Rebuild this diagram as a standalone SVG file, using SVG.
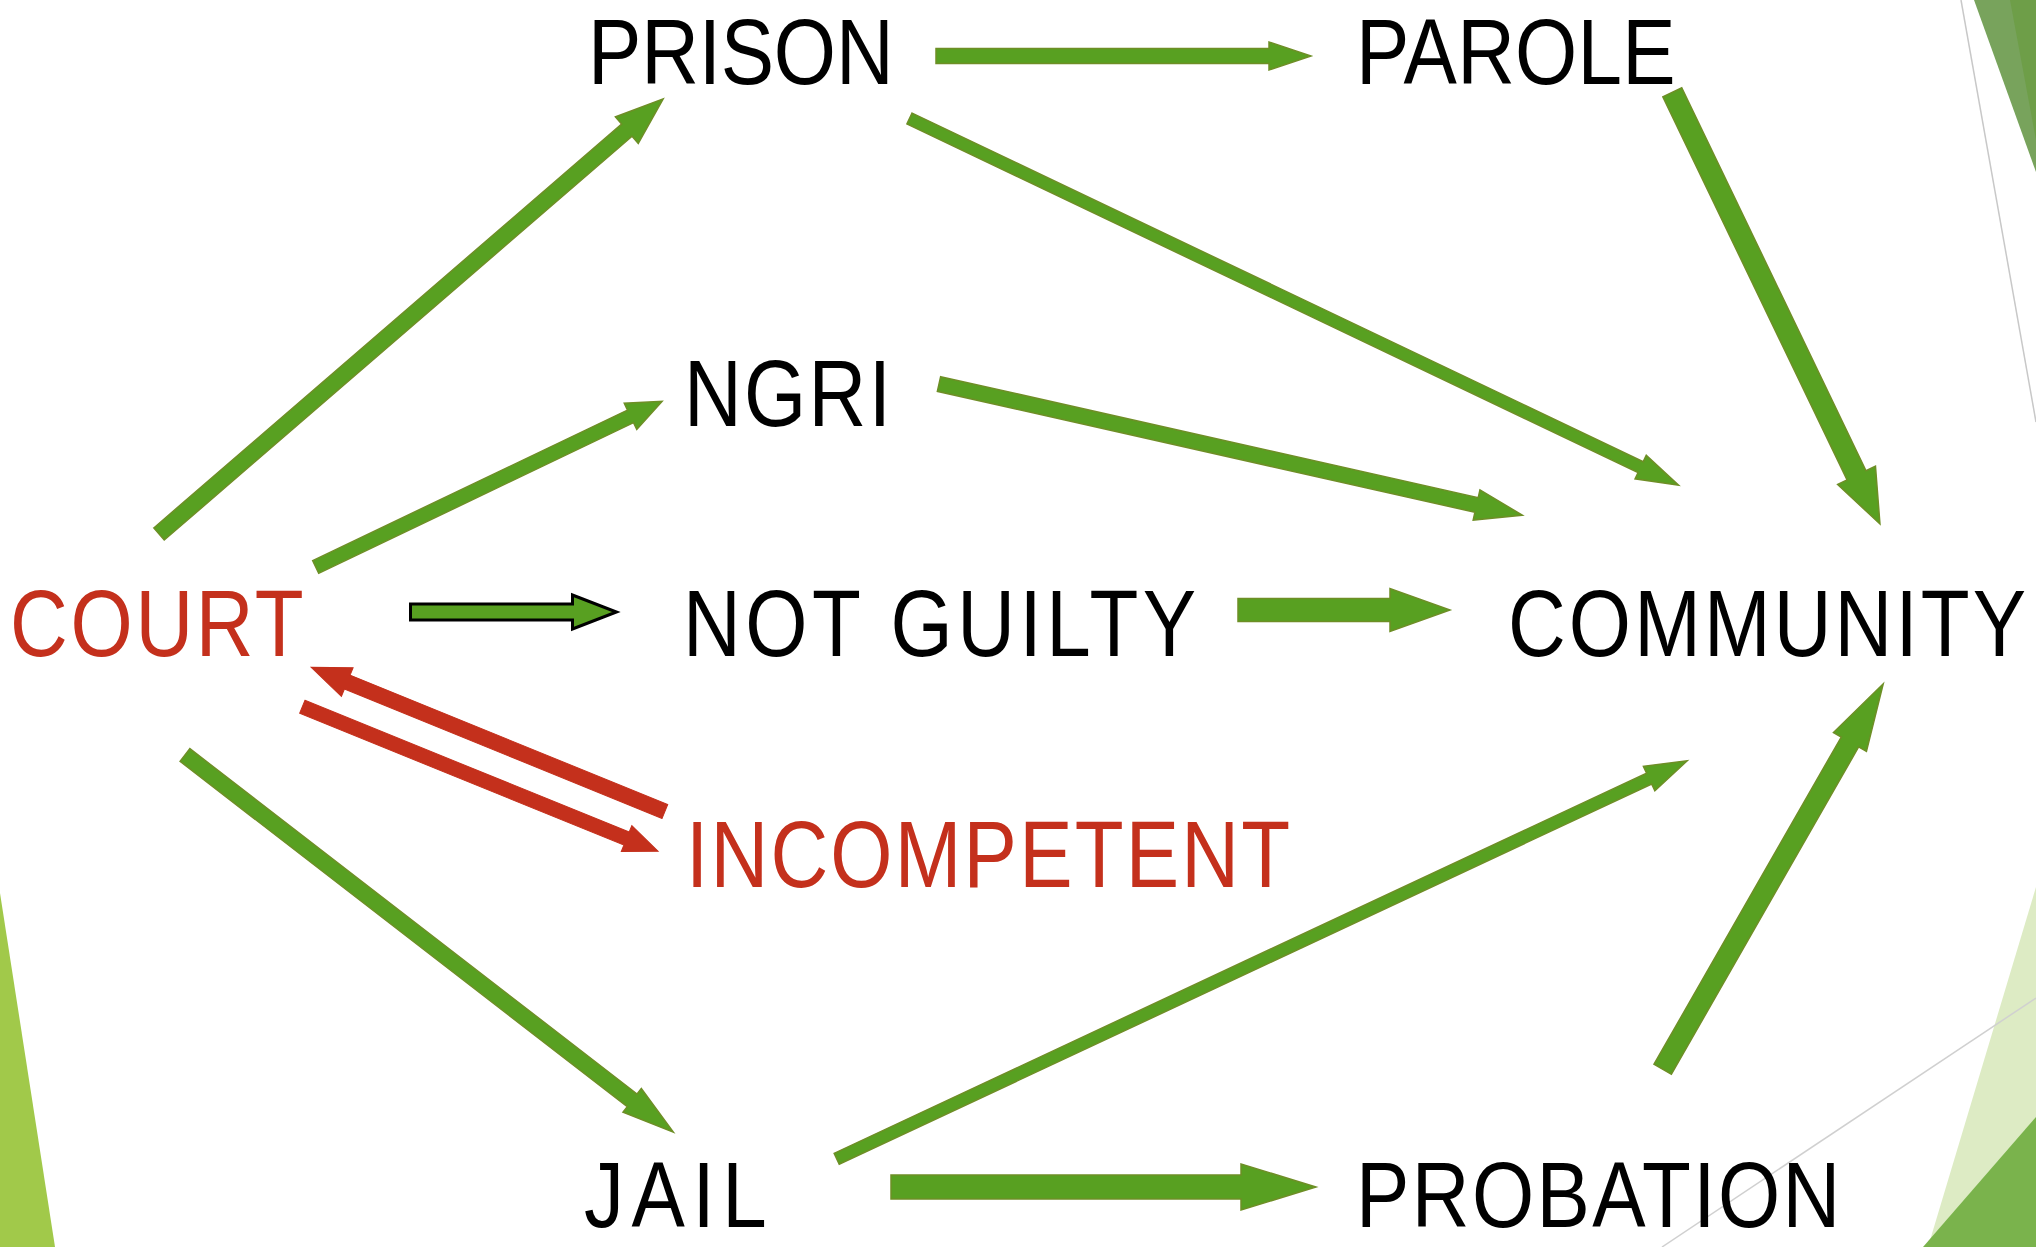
<svg xmlns="http://www.w3.org/2000/svg" width="2036" height="1247" viewBox="0 0 2036 1247">
<style>
.lbl{font-family:"Liberation Sans","DejaVu Sans",Arial,sans-serif;font-size:80px;fill:#000}
.red{fill:#C4301C}
.ga{fill:#58A021;stroke:#6E8E26;stroke-width:1.5;stroke-linejoin:miter}
.gb{fill:#58A021;stroke:#000;stroke-width:3;stroke-linejoin:miter}
.ra{fill:#C4301C;stroke:#C4301C;stroke-width:1}
</style>
<rect width="2036" height="1247" fill="#fff"/>
<g id="decor">
<polygon points="1974,0 2036,0 2036,172" fill="#78A35C"/>
<polygon points="2010,0 2036,0 2036,140" fill="#6E9E48"/>
<line x1="1961" y1="0" x2="2036" y2="422" stroke="#C8C8C8" stroke-width="1.5"/>
<polygon points="2036,887 2036,1247 1928,1247" fill="#DDEBC4"/>
<polygon points="2036,1117 2036,1247 1923,1247" fill="#7AB34C"/>
<line x1="2036" y1="998" x2="1662" y2="1247" stroke="#D0D0D0" stroke-width="1.5"/>
<polygon points="0,893 55,1247 0,1247" fill="#A1C94A"/>
</g>
<g id="connectors">
<path class="ga" transform="translate(159,534) rotate(-40.8)" d="M0,-8 H618 V-17.5 L666,0 L618,17.5 V8 H0 Z"/>
<path class="ga" transform="translate(315.7,567) rotate(-25.57)" d="M0,-7 H349 V-14.5 L384,0 L349,14.5 V7 H0 Z"/>
<path class="ga" transform="translate(909.5,118.5) rotate(25.49)" d="M0,-6 H810 V-13 L852,0 L810,13 V6 H0 Z"/>
<path class="ga" transform="translate(939,384) rotate(12.68)" d="M0,-7.5 H551 V-15.5 L598,0 L551,15.5 V7.5 H0 Z"/>
<path class="ga" transform="translate(1672.3,92.3) rotate(64.31)" d="M0,-10.5 H425 V-21 L479,0 L425,21 V10.5 H0 Z"/>
<path class="ga" transform="translate(936,56)" d="M0,-7.5 H333 V-14 L375,0 L333,14 V7.5 H0 Z"/>
<path class="gb" transform="translate(410.5,612)" d="M0,-8 H162 V-17 L206,0 L162,17 V8 H0 Z"/>
<path class="ga" transform="translate(1238,610)" d="M0,-11.5 H152 V-21.5 L212,0 L152,21.5 V11.5 H0 Z"/>
<path class="ra" transform="translate(664.9,811.5) rotate(-157.83)" d="M0,-7.5 H343 V-15.5 L382,0 L343,15.5 V7.5 H0 Z"/>
<path class="ra" transform="translate(302.3,706.8) rotate(22.11)" d="M0,-7 H350 V-14 L384,0 L350,14 V7 H0 Z"/>
<path class="ga" transform="translate(185,755) rotate(37.68)" d="M0,-8 H565 V-15 L617,0 L565,15 V8 H0 Z"/>
<path class="ga" transform="translate(836.7,1158.8) rotate(-25.08)" d="M0,-6 H897 V-13.5 L939,0 L897,13.5 V6 H0 Z"/>
<path class="ga" transform="translate(1662.7,1069.2) rotate(-60.22)" d="M0,-10 H377 V-19 L444,0 L377,19 V10 H0 Z"/>
<path class="ga" transform="translate(891,1187)" d="M0,-12 H350 V-23 L425,0 L350,23 V12 H0 Z"/>
</g>
<g id="node-prison"><text class="lbl" transform="translate(588,84) scale(1,1.15)" letter-spacing="-0.2">PRISON</text></g>
<g id="node-parole"><text class="lbl" transform="translate(1356,84) scale(1,1.15)" letter-spacing="0.2">PAROLE</text></g>
<g id="node-ngri"><text class="lbl" transform="translate(684,426) scale(1,1.18)" letter-spacing="2.3">NGRI</text></g>
<g id="node-court"><text class="lbl red" transform="translate(10,656) scale(1,1.18)" letter-spacing="2.7">COURT</text></g>
<g id="node-notguilty"><text class="lbl" transform="translate(683,656) scale(1,1.18)" letter-spacing="4.5">NOT GUILTY</text></g>
<g id="node-community"><text class="lbl" transform="translate(1508,656) scale(1,1.18)" letter-spacing="3.1">COMMUNITY</text></g>
<g id="node-incompetent"><text class="lbl red" transform="translate(686,887) scale(1,1.18)" letter-spacing="2.2">INCOMPETENT</text></g>
<g id="node-jail"><text class="lbl" transform="translate(584,1227) scale(1,1.15)" letter-spacing="7.6">JAIL</text></g>
<g id="node-probation"><text class="lbl" transform="translate(1356,1227) scale(1,1.15)" letter-spacing="2.4">PROBATION</text></g>
</svg>
